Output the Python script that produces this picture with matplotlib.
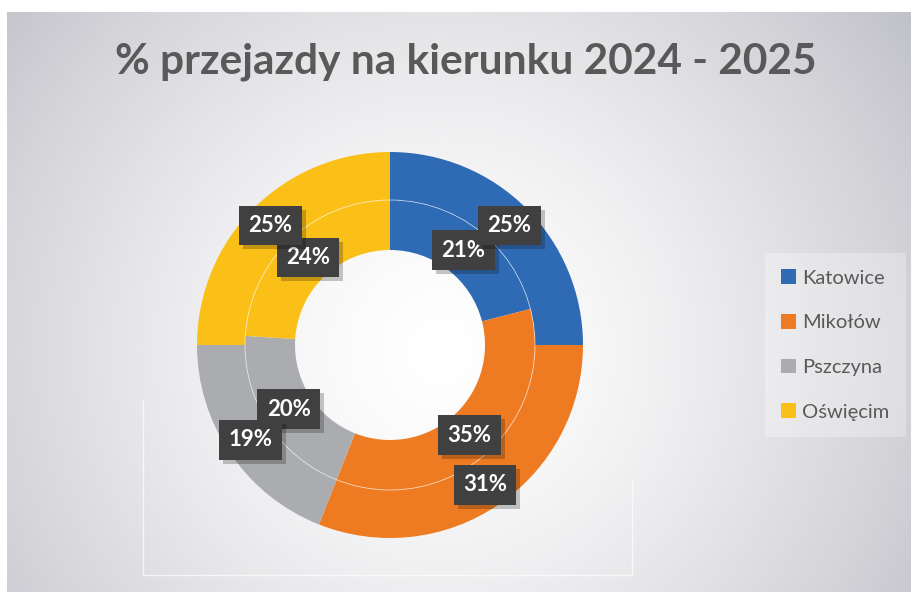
import numpy as np
import matplotlib
matplotlib.use("Agg")
import matplotlib.pyplot as plt
from matplotlib.patches import Patch, Circle, Rectangle

# ---- data ----
categories = ["Katowice", "Mikołów", "Pszczyna", "Oświęcim"]
inner_values = [21, 35, 20, 24]   # inner ring
outer_values = [25, 31, 19, 25]   # outer ring
colors = ["#2F6BB5", "#EE7B22", "#ABACAF", "#FBC018"]
title = "% przejazdy na kierunku 2024 - 2025"

W, H = 912, 592
fig = plt.figure(figsize=(W / 100, H / 100), dpi=100)
fig.patch.set_facecolor("white")

def fx(px):
    return px / W

def fy(py):  # py measured from top
    return 1 - py / H

# ---- background gradient ----
bx0, by0, bx1, by1 = 7, 12, W, H
bg = fig.add_axes([fx(bx0), fy(by1), fx(bx1 - bx0), (by1 - by0) / H])
bg.set_axis_off()
xs = np.arange(bx0, bx1)
ys = np.arange(by0, by1)
X, Y = np.meshgrid(xs, ys)
d = np.hypot(X - 440, Y - 350) / 540.0
v = 1 - 0.22 * np.clip(d, 0, 1.2) ** 1.5
img = np.dstack([v, v, v + (1 - v) * 0.12])
img = np.clip(img, 0, 1)
bg.imshow(img, extent=[bx0, bx1, by1, by0], aspect="auto", interpolation="bilinear")
bg.set_xlim(bx0, bx1)
bg.set_ylim(by1, by0)
# faint plot-area border (only visible in the lower part)
bg.plot([143, 143, 632, 632], [400, 575, 575, 480], color="white", lw=1.0, alpha=0.7)

# ---- title ----
fig.text(fx(466), fy(62), title, ha="center", va="center", fontsize=30.5,
         fontweight="bold", color="#595959", family=["Lato", "DejaVu Sans"])

# ---- donut ----
cx, cy = 390, 345
R = 200
ax = fig.add_axes([fx(cx - R), fy(cy + R), fx(2 * R), 2 * R / H])
ax.set_axis_off()
r_out, r_mid, r_in = 193, 145, 95

w_out, _ = ax.pie(outer_values, radius=r_out, colors=colors, startangle=90,
                  counterclock=False, wedgeprops=dict(width=r_out - r_mid, linewidth=0))
w_in, _ = ax.pie(inner_values, radius=r_mid, colors=colors, startangle=90,
                 counterclock=False, wedgeprops=dict(width=r_mid - r_in, linewidth=0))
ax.add_patch(Circle((0, 0), r_mid, fill=False, edgecolor="white", lw=0.6, alpha=0.6))
ax.set_xlim(-R, R)
ax.set_ylim(-R, R)
ax.set_aspect("equal")

label_texts = []

def add_labels(wedges, values, rmid, z):
    for wdg, val in zip(wedges, values):
        ang = np.deg2rad((wdg.theta1 + wdg.theta2) / 2)
        x, y = rmid * np.cos(ang), rmid * np.sin(ang)
        t = ax.text(x, y, f"{val}%", ha="center", va="center", fontsize=16,
                    fontweight="bold", color="white", family=["Lato", "DejaVu Sans"],
                    zorder=z + 1,
                    bbox=dict(boxstyle="square,pad=0.42", facecolor="#404040",
                              edgecolor="none"))
        label_texts.append((t, z))

add_labels(w_in, inner_values, (r_mid + r_in) / 2, 10)
add_labels(w_out, outer_values, (r_out + r_mid) / 2, 20)

# shadows behind the label boxes
fig.canvas.draw()
renderer = fig.canvas.get_renderer()
inv = ax.transData.inverted()
for t, z in label_texts:
    bb = t.get_bbox_patch().get_window_extent(renderer)
    (x0, y0), (x1, y1) = inv.transform([(bb.x0 + 4, bb.y0 - 4), (bb.x1 + 4, bb.y1 - 4)])
    ax.add_patch(Rectangle((x0, y0), x1 - x0, y1 - y0, facecolor="black", alpha=0.22,
                           edgecolor="none", zorder=z))

# ---- legend ----
handles = [Patch(facecolor=c, edgecolor="none") for c in colors]
leg = fig.legend(handles, categories, loc="center left",
                 bbox_to_anchor=(fx(755), fy(345)), frameon=True,
                 handlelength=0.75, handleheight=0.75, handletextpad=0.3,
                 labelspacing=1.35, borderpad=0.8, fancybox=False,
                 prop=dict(family=["Lato", "DejaVu Sans"], size=14.5))
leg.get_frame().set_facecolor("white")
leg.get_frame().set_alpha(0.3)
leg.get_frame().set_edgecolor("none")
for t in leg.get_texts():
    t.set_color("#595959")

fig.savefig("out.png", dpi=100)
